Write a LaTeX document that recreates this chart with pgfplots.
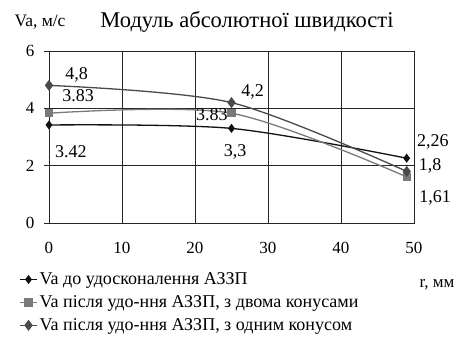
\documentclass[border=0pt]{standalone}
\usepackage{pgfplots}
\pgfplotsset{compat=1.18}
\usepackage{fontspec}
\setmainfont{Liberation Serif}

\definecolor{sA}{HTML}{111111}
\definecolor{sB}{HTML}{7A7A7A}
\definecolor{sC}{HTML}{4A4A4A}

\begin{document}
\begin{tikzpicture}[x=1pt,y=1pt]
\useasboundingbox (-49,-137) rectangle (415,223);
\begin{axis}[
  at={(0,0)}, anchor=origin,
  scale only axis, width=365pt, height=172pt,
  xmin=0, xmax=50, ymin=0, ymax=6,
  xtick={0,10,20,30,40,50}, ytick={0,2,4,6},
  grid=major,
  major grid style={black!85, line width=0.6pt},
  axis line style={black!85, line width=0.6pt},
  tick align=outside, major tick length=5pt,
  xtick style={draw=none},
  ytick style={black!85, line width=0.6pt},
  ytick pos=left,
  /pgf/number format/assume math mode=true,
  ticklabel style={font=\fontsize{17}{17}\selectfont},
  xticklabel style={yshift=-11pt},
  yticklabel style={xshift=-6pt},
  clip=false,
  legend cell align=left,
  legend style={draw=none, fill=none, at={(-0.09,-0.265)}, anchor=north west,
    font=\fontsize{18}{20}\selectfont, row sep=5.5pt,
    /tikz/every even column/.append style={column sep=2pt}},
  every axis plot/.append style={line width=1.3pt, smooth, tension=0.5},
]
\addplot[color=sA, mark=diamond*, mark size=3.5pt, mark options={fill=sA}]
  coordinates {(0,3.42) (25,3.3) (49,2.26)};
\addlegendentry{Va до удосконалення АЗЗП}
\addplot[color=sB, mark=square*, mark size=3.5pt, mark options={fill=sB}]
  coordinates {(0,3.83) (25,3.83) (49,1.61)};
\addlegendentry{Va після удо-ння АЗЗП, з двома конусами}
\addplot[color=sC, mark=diamond*, mark size=4.5pt, mark options={fill=sC}]
  coordinates {(0,4.8) (25,4.2) (49,1.8)};
\addlegendentry{Va після удо-ння АЗЗП, з одним конусом}

% value labels
\begin{scope}[every node/.style={font=\fontsize{18}{18}\selectfont, inner sep=0pt}]
\node at (axis cs:3.8,5.16) {4,8};
\node at (axis cs:4.0,4.46) {3.83};
\node at (axis cs:3.0,2.48) {3.42};
\node at (axis cs:27.9,4.57) {4,2};
\node at (axis cs:22.3,3.77) {3.83};
\node at (axis cs:25.5,2.48) {3,3};
\node at (axis cs:52.6,2.83) {2,26};
\node at (axis cs:52.2,1.99) {1,8};
\node at (axis cs:52.9,0.87) {1,61};
\end{scope}
\end{axis}
% titles
\node[font=\fontsize{17.5}{17.5}\selectfont] at (-9,201) {Va, м/с};
\node[font=\fontsize{22.5}{22.5}\selectfont] at (198,201) {Модуль абсолютної швидкості};
\node[font=\fontsize{17}{17}\selectfont] at (388,-62) {r, мм};
\end{tikzpicture}
\end{document}
